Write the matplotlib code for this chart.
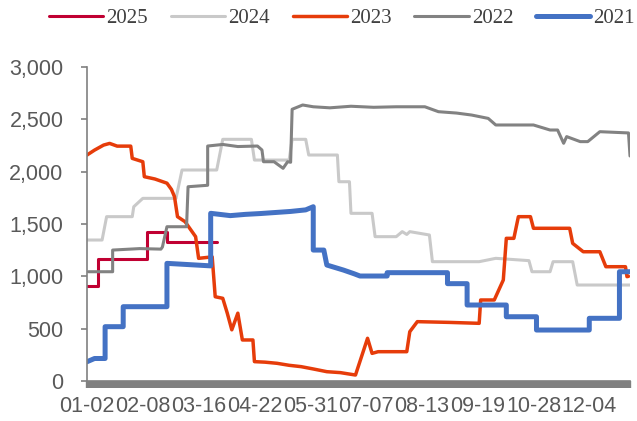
import matplotlib
matplotlib.use("Agg")
import matplotlib.pyplot as plt
import numpy as np

# category axis: daily positions 0..360
n_cat = 361
tick_pos = [0, 37, 74, 111, 148, 185, 222, 259, 296, 333]
tick_labels = ['01-02', '02-08', '03-16', '04-22', '05-31', '07-07', '08-13', '09-19', '10-28', '12-04']

# series as (category index, value) knots
x2025 = [0, 7, 7, 40, 40, 53, 53, 86]
y2025 = [908, 908, 1162, 1162, 1427, 1427, 1331, 1331]

x2024 = [0, 10, 13, 30, 31, 37, 59, 63, 86, 90, 109, 111, 134, 136, 145, 147, 166, 167, 174, 175,
         189, 191, 205, 209, 212, 214, 227, 229, 260, 271, 293, 295, 307, 309, 322, 325, 360]
y2024 = [1347, 1347, 1570, 1570, 1665, 1745, 1745, 2016, 2016, 2309, 2309, 2111, 2111, 2309, 2309, 2159, 2159, 1904, 1904, 1602,
         1602, 1379, 1379, 1427, 1400, 1427, 1395, 1140, 1140, 1172, 1150, 1044, 1044, 1140, 1140, 917, 917]

x2023 = [0, 5, 11, 15, 20, 29, 30, 37, 38, 45, 53, 56, 58, 60, 65, 72, 74, 83, 85, 90, 93, 96, 100, 103, 110, 111,
         118, 126, 134, 142, 150, 159, 168, 178, 186, 189, 193, 212, 214, 219, 240, 260, 261, 270, 276, 278, 283,
         286, 294, 296, 320, 322, 329, 340, 344, 357, 358, 359]
y2023 = [2159, 2206, 2254, 2270, 2244, 2244, 2127, 2095, 1952, 1930, 1890, 1830, 1761, 1570, 1522, 1379, 1172, 1186, 805, 790, 648, 489, 648, 392, 392, 185,
         180, 169, 150, 137, 115, 89, 80, 57, 408, 264, 280, 280, 471, 567, 560, 551, 774, 774, 965, 1363, 1363,
         1570, 1570, 1459, 1459, 1315, 1235, 1235, 1092, 1092, 997, 1000]

x2022 = [1, 17, 17, 35, 49, 50, 53, 66, 67, 80, 80, 90, 100, 113, 116, 117, 124, 130, 133, 135, 136, 143, 150, 161,
         175, 190, 205, 224, 233, 245, 255, 266, 271, 296, 307, 312, 316, 318, 327, 332, 340, 359, 360]
y2022 = [1044, 1044, 1251, 1265, 1260, 1280, 1474, 1474, 1856, 1870, 2245, 2260, 2240, 2245, 2207, 2095, 2095, 2032, 2095, 2090, 2596, 2637, 2620, 2610,
         2625, 2615, 2620, 2620, 2573, 2560, 2541, 2509, 2446, 2446, 2398, 2398, 2271, 2335, 2287, 2287, 2382, 2370, 2150]

x2021 = [0, 5, 12, 12, 24, 24, 53, 53, 82, 82, 95, 105, 115, 125, 135, 145, 150, 150, 157, 159, 170, 177, 181,
         199, 199, 239, 239, 252, 252, 278, 278, 298, 298, 333, 333, 353, 353, 360]
y2021 = [184, 215, 215, 519, 519, 710, 710, 1124, 1100, 1602, 1580, 1592, 1600, 1610, 1620, 1635, 1665, 1251, 1251, 1108, 1060, 1025, 1003,
         1003, 1035, 1035, 930, 930, 726, 726, 614, 614, 487, 487, 599, 599, 1044, 1044]

series = [
    ('2025', x2025, y2025, '#C00032', 2.2),
    ('2024', x2024, y2024, '#C9C9C9', 2.2),
    ('2023', x2023, y2023, '#E63C0A', 2.5),
    ('2022', x2022, y2022, '#828282', 2.2),
    ('2021', x2021, y2021, '#4472C4', 3.6),
]

fig = plt.figure(figsize=(6.37, 4.21), dpi=100)
ax = fig.add_axes([87/637, 1-381/421, (630-87)/637, (381-67)/421])

for name, xs, ys, col, lw in series:
    ax.plot(xs, ys, color=col, lw=lw, label=name, solid_capstyle='round', solid_joinstyle='round')

ax.set_xlim(0, n_cat - 1)
ax.set_ylim(0, 3000)
ax.set_yticks([0, 500, 1000, 1500, 2000, 2500, 3000])
ax.set_yticklabels(['0', '500', '1,000', '1,500', '2,000', '2,500', '3,000'])
ax.set_xticks(tick_pos)
ax.set_xticklabels(tick_labels)
ax.set_xticks(np.arange(n_cat), minor=True)

for s in ['top', 'right']:
    ax.spines[s].set_visible(False)
ax.spines['left'].set_color('#808080')
ax.spines['left'].set_linewidth(1.2)
ax.spines['bottom'].set_color('#808080')
ax.spines['bottom'].set_linewidth(1.2)

ax.tick_params(axis='y', direction='out', length=4, width=1.2, color='#808080',
               labelsize=15.5, labelcolor='#595959', pad=13)
ax.tick_params(axis='x', which='both', direction='out', length=5, width=1.7, color='#808080',
               labelsize=15.5, labelcolor='#595959', pad=6)
for lab in ax.get_xticklabels() + ax.get_yticklabels():
    lab.set_family('Liberation Sans')

leg = fig.legend(loc='center', bbox_to_anchor=(342/637, 1-18/421), ncol=5, frameon=False,
                 prop={'family': 'Liberation Serif', 'size': 15}, handlelength=2.6,
                 handletextpad=0.15, columnspacing=1.1, borderaxespad=0)
for t in leg.get_texts():
    t.set_color('#404040')

fig.savefig('out.png', dpi=100)
